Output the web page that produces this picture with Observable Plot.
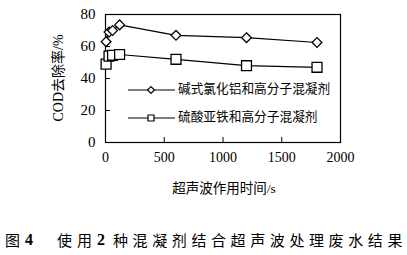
<!DOCTYPE html>
<html><head><meta charset="utf-8">
<script src="https://cdn.jsdelivr.net/npm/d3@7"></script>
<script src="https://cdn.jsdelivr.net/npm/@observablehq/plot@0.6"></script>
<style>
body{margin:0;background:#fff;width:407px;height:255px;overflow:hidden}
#cap{position:relative;height:50px;font-family:"Noto Sans CJK SC";font-size:15px;color:#000}
#cap span{position:absolute;top:26px;line-height:18px;white-space:nowrap}
#cap .n{font-family:"Liberation Serif","DejaVu Serif",serif;font-weight:bold;font-size:16px}
#chart svg text{font-family:"Liberation Serif","Noto Sans CJK SC",serif !important}
</style></head>
<body><div id="chart"></div>
<div id="cap"><span style="left:5px">图</span><span class="n" style="left:25px">4</span><span style="left:57px;letter-spacing:5px">使用</span><span class="n" style="left:97px">2</span><span style="left:113px;letter-spacing:4.6px">种混凝剂结合超声波处理废水结果</span></div>
<script>
const times = [5, 30, 60, 120, 600, 1200, 1800];
const pacValues = [63, 69, 70, 73.5, 67, 65.5, 62.5];
const feValues = [49, 54, 54.5, 55, 52, 48, 47];
const seriesNames = ["碱式氯化铝和高分子混凝剂", "硫酸亚铁和高分子混凝剂"];
const xTicks = [0, 500, 1000, 1500, 2000];
const yTicks = [0, 20, 40, 60, 80];

const pac = times.map((t, i) => ({t, v: pacValues[i]}));
const fe = times.map((t, i) => ({t, v: feValues[i]}));

const plot = Plot.plot({
  width: 407, height: 205,
  marginLeft: 105, marginRight: 67, marginTop: 14, marginBottom: 63,
  style: {fontSize: "13.5px", color: "#000", background: "#fff"},
  x: {domain: [0, 2000]},
  y: {domain: [0, 80]},
  marks: [
    Plot.axisX({ticks: xTicks, tickSize: 0, tickPadding: 10, label: null, fontSize: 14, tickFormat: d3.format("d")}),
    Plot.axisX({ticks: [500, 1000, 1500], tickSize: -5, tickFormat: () => "", label: null}),
    Plot.axisY({ticks: yTicks, tickSize: 0, tickPadding: 10, label: null, fontSize: 15, tickFormat: d3.format("d")}),
    Plot.axisY({ticks: [20, 40, 60], tickSize: -5, tickFormat: () => "", label: null}),
    Plot.frame({stroke: "#000", strokeWidth: 1.2}),
    Plot.line(pac, {x: "t", y: "v", stroke: "#000", strokeWidth: 1.2}),
    Plot.line(fe, {x: "t", y: "v", stroke: "#000", strokeWidth: 1.2}),
    Plot.dot(pac, {x: "t", y: "v", symbol: "diamond2", r: 4.4, stroke: "#000", fill: "#fff", strokeWidth: 1.3}),
    Plot.dot(fe, {x: "t", y: "v", symbol: "square", r: 5.6, stroke: "#000", fill: "#fff", strokeWidth: 1.3})
  ]
});
document.getElementById("chart").appendChild(plot);
const svg = d3.select(plot);
// y label
svg.append("text").attr("transform", "translate(60,78) rotate(-90)")
  .attr("text-anchor", "middle").attr("dominant-baseline", "middle")
  .style("font-size", "14px")
  .text("COD去除率/%");
// x label
svg.append("text").attr("x", 224).attr("y", 190)
  .attr("text-anchor", "middle").attr("dominant-baseline", "middle")
  .style("font-size", "13.5px")
  .text("超声波作用时间/s");
// legend
const leg = [{y: 90, sym: d3.symbolDiamond2, size: 30}, {y: 118, sym: d3.symbolSquare, size: 36}];
leg.forEach((l, i) => {
  const g = svg.append("g");
  g.append("line").attr("x1", 128).attr("x2", 175).attr("y1", l.y).attr("y2", l.y)
    .attr("stroke", "#000").attr("stroke-width", 1.2);
  g.append("path").attr("d", d3.symbol(l.sym, l.size)()).attr("transform", `translate(151,${l.y})`)
    .attr("fill", "#fff").attr("stroke", "#000").attr("stroke-width", 1.2);
  g.append("text").attr("x", 178).attr("y", l.y).attr("dominant-baseline", "middle")
    .attr("text-anchor", "start")
    .style("font-size", "12.7px")
    .text(seriesNames[i]);
});
</script></body></html>
